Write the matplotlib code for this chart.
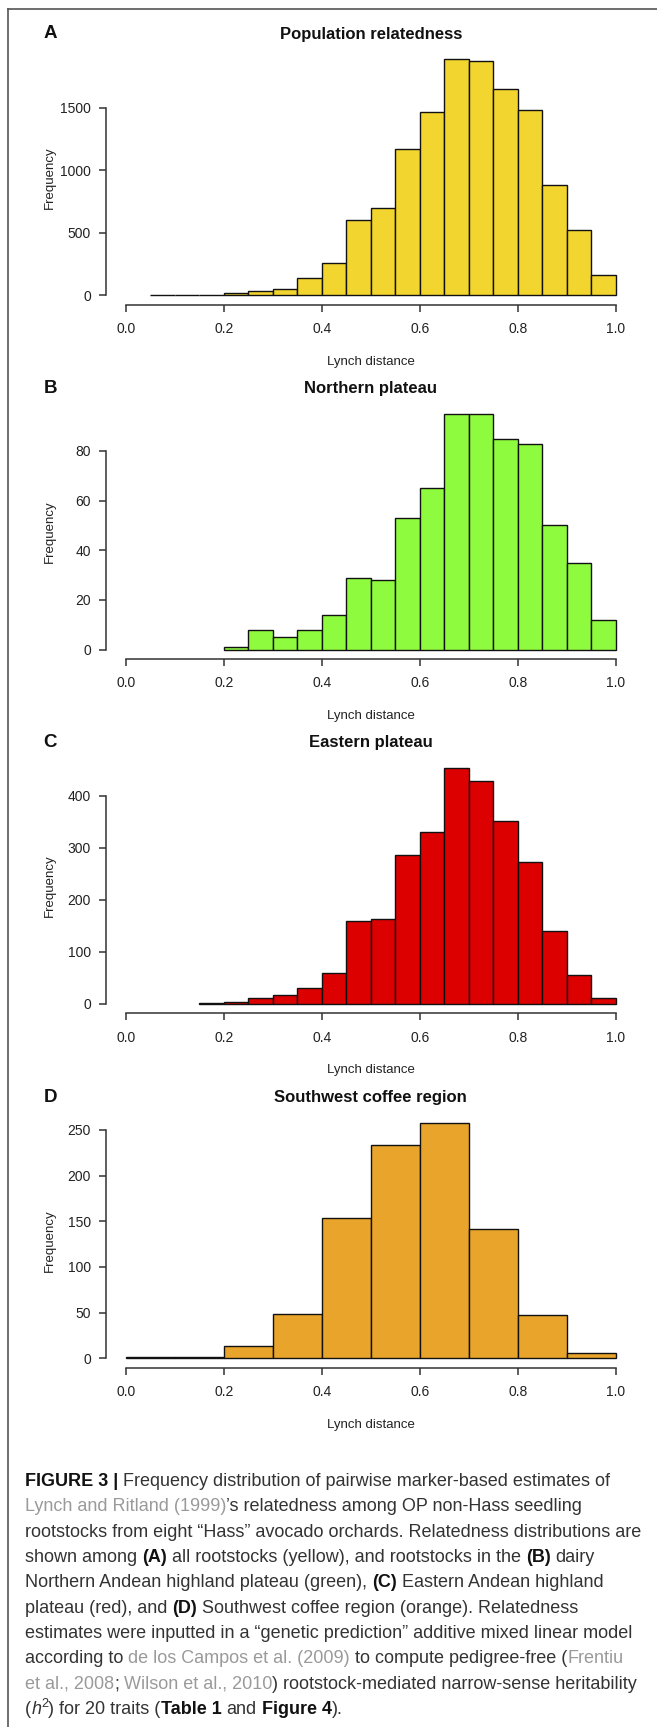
import numpy as np
import matplotlib
matplotlib.use("Agg")
import matplotlib.pyplot as plt
from matplotlib.lines import Line2D

# Histogram counts (Lynch distance bins)
a_start, a_width = 0.05, 0.05
a_counts = [1, 2, 4, 16, 37, 53, 136, 258, 602, 701, 1172, 1468, 1886, 1876,
            1649, 1479, 885, 522, 160]
b_start, b_width = 0.20, 0.05
b_counts = [1, 8, 5, 8, 14, 29, 28, 53, 65, 95, 95, 85, 83, 50, 35, 12]
c_start, c_width = 0.15, 0.05
c_counts = [1, 4, 12, 17, 31, 59, 159, 164, 287, 330, 453, 429, 351, 273,
            140, 55, 11]
d_start, d_width = 0.0, 0.1
d_counts = [1, 1, 13, 48, 154, 233, 258, 142, 47, 6]

letters = ["A", "B", "C", "D"]
titles = ["Population relatedness", "Northern plateau", "Eastern plateau",
          "Southwest coffee region"]
colors = ["#F3D52F", "#8FFB3E", "#DD0000", "#E8A42B"]
yticks = [[0, 500, 1000, 1500], [0, 20, 40, 60, 80],
          [0, 100, 200, 300, 400], [0, 50, 100, 150, 200, 250]]
xticks = [0.0, 0.2, 0.4, 0.6, 0.8, 1.0]

panels = [(a_start, a_width, a_counts), (b_start, b_width, b_counts),
          (c_start, c_width, c_counts), (d_start, d_width, d_counts)]

W, H = 657, 1727
plt.rcParams["font.family"] = ["Liberation Sans", "DejaVu Sans"]

fig = plt.figure(figsize=(W / 100, H / 100), dpi=100)


def fx(px):
    return px / W


def fy(px):
    return 1 - px / H


ink = "#222222"
ax_left, ax_right = 106.1, 635.6
ax_h = 254.7

for i, (start, width, counts) in enumerate(panels):
    bottom = 304.6 + i * 354.4
    ax = fig.add_axes([fx(ax_left), fy(bottom), (ax_right - ax_left) / W, ax_h / H])
    lefts = start + width * np.arange(len(counts))
    ax.bar(lefts, counts, width=width, align="edge", color=colors[i],
           edgecolor="#111111", linewidth=1.0)
    top = max(counts)
    ax.set_xlim(-0.04, 1.04)
    ax.set_ylim(-0.04 * top, 1.04 * top)
    for s in ["top", "right"]:
        ax.spines[s].set_visible(False)
    for s in ["left", "bottom"]:
        ax.spines[s].set_color("#333333")
        ax.spines[s].set_linewidth(1.1)
    ax.spines["bottom"].set_bounds(0, 1)
    ax.spines["left"].set_bounds(0, yticks[i][-1])
    ax.set_xticks(xticks)
    ax.set_xticklabels([f"{t:.1f}" for t in xticks])
    ax.set_yticks(yticks[i])
    ax.set_yticklabels([str(t) for t in yticks[i]])
    ax.tick_params(axis="x", length=5, width=1.1, color="#333333", pad=7.5,
                   labelsize=10, labelcolor=ink)
    ax.tick_params(axis="y", length=5, width=1.1, color="#333333", pad=6,
                   labelsize=10, labelcolor=ink)
    ax.patch.set_alpha(0)

    ty = bottom - 270.6
    fig.text(fx((ax_left + ax_right) / 2), fy(ty), titles[i], ha="center",
             va="center", fontsize=12, fontweight="bold", color="#111111")
    fig.text(fx(50.3), fy(ty), letters[i], ha="center", va="center",
             fontsize=13.5, fontweight="bold", color="#111111")
    fig.text(fx((ax_left + ax_right) / 2), fy(bottom + 57), "Lynch distance",
             ha="center", va="center", fontsize=9.5, color=ink)
    fig.text(fx(50.3), fy(bottom - ax_h / 2), "Frequency", ha="center",
             va="center", rotation=90, fontsize=9.5, color=ink)

# frame lines (top and left edges of the figure box)
fig.add_artist(Line2D([fx(8.4), 1.0], [fy(9), fy(9)], color="#555555", lw=1.2))
fig.add_artist(Line2D([fx(8.4), fx(8.4)], [fy(9), 0.0], color="#555555", lw=1.2))

# caption with mixed styles
dark = "#333333"
grey = "#9a9a9a"
cap_size = 13
N = {"color": dark}
B = {"color": "#111111", "fontweight": "bold"}
G = {"color": grey}
I = {"color": dark, "fontstyle": "italic"}
S = {"color": dark, "size_scale": 0.7, "dy": -7}

caption = [
    [("FIGURE 3 |", B), (" Frequency distribution of pairwise marker-based estimates of", N)],
    [("Lynch and Ritland (1999)", G), ("\u2019s relatedness among OP non-Hass seedling", N)],
    [("rootstocks from eight \u201cHass\u201d avocado orchards. Relatedness distributions are", N)],
    [("shown among ", N), ("(A)", B), (" all rootstocks (yellow), and rootstocks in the ", N),
     ("(B)", B), (" dairy", N)],
    [("Northern Andean highland plateau (green), ", N), ("(C)", B),
     (" Eastern Andean highland", N)],
    [("plateau (red), and ", N), ("(D)", B), (" Southwest coffee region (orange). Relatedness", N)],
    [("estimates were inputted in a \u201cgenetic prediction\u201d additive mixed linear model", N)],
    [("according to ", N), ("de los Campos et al. (2009)", G),
     (" to compute pedigree-free (", N), ("Frentiu", G)],
    [("et al., 2008", G), ("; ", N), ("Wilson et al., 2010", G),
     (") rootstock-mediated narrow-sense heritability", N)],
    [("(", N), ("h", I), ("2", S), (") for 20 traits (", N), ("Table 1", B), (" and ", N),
     ("Figure 4", B), (").", N)],
]

renderer = fig.canvas.get_renderer()


def space_width(size, weight):
    t1 = fig.text(0, 0, "a a", fontsize=size, fontweight=weight)
    t2 = fig.text(0, 0, "aa", fontsize=size, fontweight=weight)
    w = t1.get_window_extent(renderer).width - t2.get_window_extent(renderer).width
    t1.remove()
    t2.remove()
    return w


for li, line in enumerate(caption):
    x = 25.1
    base = 1486 + li * 25.35
    for txt, st in line:
        st = dict(st)
        scale = st.pop("size_scale", 1.0)
        dy = st.pop("dy", 0)
        size = cap_size * scale
        sw = space_width(size, st.get("fontweight", "normal"))
        lead = len(txt) - len(txt.lstrip(" "))
        trail = len(txt) - len(txt.rstrip(" "))
        x += lead * sw
        body = txt.strip(" ")
        if body:
            t = fig.text(fx(x), fy(base + dy), body, fontsize=size, va="baseline",
                         ha="left", **st)
            x += t.get_window_extent(renderer).width
        x += trail * sw

fig.savefig("out.png", dpi=100)
